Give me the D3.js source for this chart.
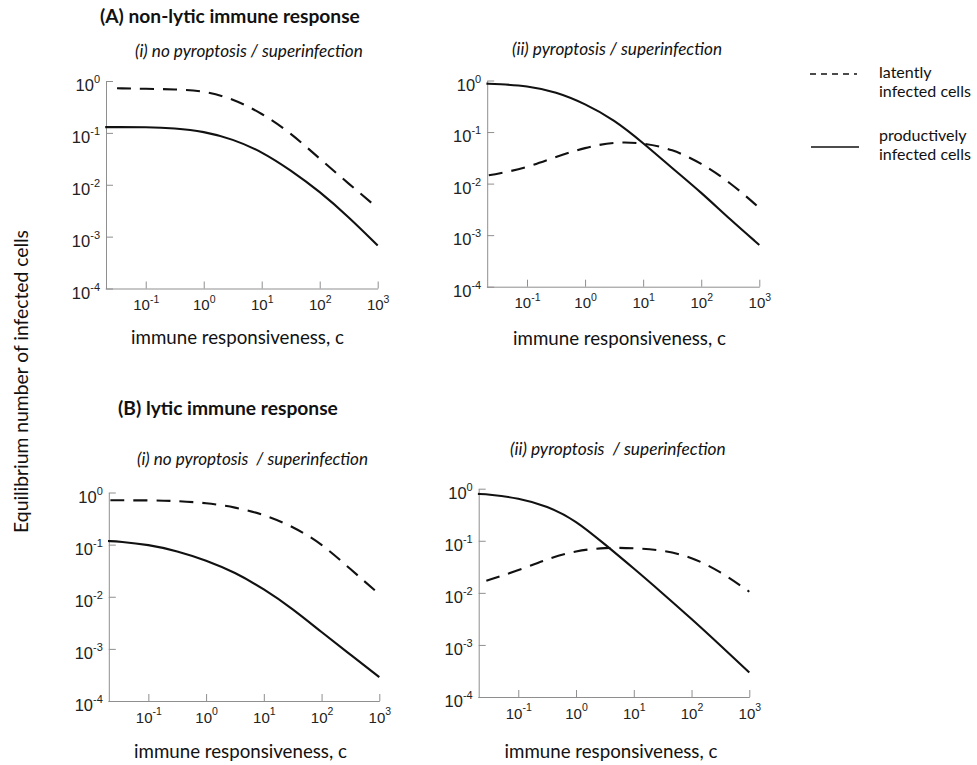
<!DOCTYPE html>
<html><head><meta charset="utf-8">
<script src="https://cdn.jsdelivr.net/npm/d3@7"></script>
<style>body{margin:0;background:#fff} svg{display:block}</style>
</head><body><svg id="c" width="977" height="765"></svg>
<script>
// ---- data ----
const xTickValues = [0.1, 1, 10, 100, 1000];
const xTickExps = ["-1", "0", "1", "2", "3"];
const yTickValues = [1, 0.1, 0.01, 0.001, 0.0001];
const yTickExps = ["0", "-1", "-2", "-3", "-4"];

const cProductive = [0.02, 0.0316, 0.1, 0.316, 1, 3.16, 10, 31.6, 100, 316, 1000];

const aiProductive  = [0.129, 0.129, 0.129, 0.123, 0.107, 0.0759, 0.0437, 0.0191, 0.00741, 0.0024, 0.000676];
const aiLatentC     = [0.032, 0.1, 0.316, 1, 3.16, 10, 31.6, 100, 316, 1000];
const aiLatent      = [0.724, 0.708, 0.692, 0.646, 0.457, 0.240, 0.100, 0.0316, 0.0105, 0.00355];

const aiiProductive = [0.871, 0.851, 0.794, 0.603, 0.355, 0.174, 0.0617, 0.0200, 0.00676, 0.00200, 0.000646];
const aiiLatentC    = [0.022, 0.0316, 0.1, 0.316, 1, 3.16, 10, 31.6, 100, 316, 1000];
const aiiLatent     = [0.0145, 0.0155, 0.0204, 0.0331, 0.0501, 0.0646, 0.0617, 0.0468, 0.0251, 0.0105, 0.00339];

const biProductive  = [0.117, 0.115, 0.100, 0.0759, 0.0501, 0.0295, 0.0141, 0.00589, 0.00209, 0.000776, 0.000288];
const biLatentC     = [0.022, 0.1, 0.316, 1, 3.16, 10, 31.6, 100, 316, 1000];
const biLatent      = [0.708, 0.708, 0.692, 0.631, 0.525, 0.380, 0.224, 0.105, 0.0339, 0.0112];

const biiProductive = [0.794, 0.776, 0.661, 0.468, 0.245, 0.0851, 0.0295, 0.00977, 0.00316, 0.000977, 0.000295];
const biiLatentC    = [0.028, 0.1, 0.316, 1, 3.16, 10, 31.6, 100, 316, 1000];
const biiLatent     = [0.0170, 0.0269, 0.0447, 0.0646, 0.0741, 0.0724, 0.0661, 0.0490, 0.0257, 0.0105];

const legendLabels = [["latently", "infected cells"], ["productively", "infected cells"]];
const xAxisTitle = "immune responsiveness, c";
const yAxisTitle = "Equilibrium number of infected cells";

// ---- layout ----
const panels = [
  {x: [105.2, 377.7], y: [288.5, 81], prod: aiProductive, latC: aiLatentC, lat: aiLatent,
   sub: "(i) no pyroptosis / superinfection", subX: 135, subY: 57, subW: 228, xlab: 237.5, xlabY: 344},
  {x: [486.4, 759.3], y: [286.7, 80.5], prod: aiiProductive, latC: aiiLatentC, lat: aiiLatent,
   sub: "(ii) pyroptosis / superinfection", subX: 512, subY: 55, subW: 210, xlab: 619.5, xlabY: 345},
  {x: [108, 379.3], y: [701, 492.5], prod: biProductive, latC: biLatentC, lat: biLatent,
   sub: "(i) no pyroptosis  / superinfection", subX: 137, subY: 465, subW: 231, xlab: 240.5, xlabY: 758},
  {x: [477.9, 749.3], y: [697, 488.7], prod: biiProductive, latC: biiLatentC, lat: biiLatent,
   sub: "(ii) pyroptosis  / superinfection", subX: 510, subY: 455, subW: 216, xlab: 611, xlabY: 758}
];

const svg = d3.select("#c");
const AX = "#8f8f8f";
const TXT = "Lato, 'Open Sans', sans-serif";
const NUM = "'Liberation Sans', Arial, sans-serif";

function fit(sel, w) {
  const L = sel.node().getComputedTextLength();
  const fs = parseFloat(sel.attr("font-size"));
  sel.attr("font-size", (fs * w / L).toFixed(2));
}

panels.forEach(p => {
  const x = d3.scaleLog().domain([0.02, 1000]).range(p.x);
  const y = d3.scaleLog().domain([1e-4, 1]).range(p.y);
  const g = svg.append("g");

  // x axis
  const gx = g.append("g").attr("transform", `translate(0,${p.y[0]})`)
    .call(d3.axisBottom(x).tickValues(xTickValues).tickSizeInner(-7).tickSizeOuter(0).tickPadding(0)
      .tickFormat(() => ""));
  gx.select(".domain").attr("stroke", AX);
  gx.selectAll(".tick line").attr("stroke", AX);
  gx.selectAll(".tick text").each(function(d, i) {
    const t = d3.select(this).attr("y", 0).attr("dy", 21.5)
      .attr("font-family", NUM).attr("font-size", 15).attr("fill", "#222").attr("text-anchor", "middle");
    t.text(null);
    t.append("tspan").text("10");
    t.append("tspan").attr("dy", -7.5).attr("font-size", 10.5).text(xTickExps[i]);
  });

  // y axis
  const gy = g.append("g").attr("transform", `translate(${p.x[0] + 0.8},0)`)
    .call(d3.axisLeft(y).tickValues(yTickValues).tickSizeInner(-7).tickSizeOuter(0).tickPadding(0)
      .tickFormat(() => ""));
  gy.select(".domain").attr("stroke", AX);
  gy.selectAll(".tick line").attr("stroke", AX);
  gy.selectAll(".tick text").each(function(d, i) {
    const t = d3.select(this).attr("x", -6).attr("dy", 9.5)
      .attr("font-family", NUM).attr("font-size", 16.5).attr("fill", "#222").attr("text-anchor", "end");
    t.text(null);
    t.append("tspan").text("10");
    t.append("tspan").attr("dy", -8).attr("font-size", 11).text(yTickExps[i]);
  });

  const line = d3.line().x(d => x(d[0])).y(d => y(d[1])).curve(d3.curveBasis);

  g.append("path").datum(cProductive.map((c, i) => [c, p.prod[i]]))
    .attr("d", line).attr("fill", "none").attr("stroke", "#111").attr("stroke-width", 2.1);
  g.append("path").datum(p.latC.map((c, i) => [c, p.lat[i]]))
    .attr("d", line).attr("fill", "none").attr("stroke", "#111").attr("stroke-width", 2.1)
    .attr("stroke-dasharray", "14,9");

  // subtitle
  const st = svg.append("text").attr("x", p.subX).attr("y", p.subY)
    .attr("font-family", TXT).attr("font-style", "italic").attr("font-size", 15)
    .style("white-space", "pre").attr("fill", "#111").text(p.sub);
  fit(st, p.subW);

  // x axis title
  const xt = svg.append("text").attr("x", p.xlab).attr("y", p.xlabY).attr("text-anchor", "middle")
    .attr("font-family", TXT).attr("font-size", 17).attr("fill", "#111").text(xAxisTitle);
  fit(xt, 213);
});

// section titles
const tA = svg.append("text").attr("x", 100).attr("y", 23).attr("font-family", TXT)
  .attr("font-weight", "bold").attr("font-size", 18).attr("fill", "#111").text("(A) non-lytic immune response");
fit(tA, 260);
const tB = svg.append("text").attr("x", 118).attr("y", 415).attr("font-family", TXT)
  .attr("font-weight", "bold").attr("font-size", 18).attr("fill", "#111").text("(B) lytic immune response");
fit(tB, 220);

// y axis title
const yt = svg.append("text").attr("transform", "translate(28,381.5) rotate(-90)")
  .attr("text-anchor", "middle").attr("font-family", TXT).attr("font-size", 17).attr("fill", "#111")
  .text(yAxisTitle);
fit(yt, 303);

// legend
const leg = svg.append("g");
const legY = [74, 147];
leg.append("line").attr("x1", 810).attr("x2", 857).attr("y1", legY[0]).attr("y2", legY[0])
  .attr("stroke", "#111").attr("stroke-width", 1.7).attr("stroke-dasharray", "6,5");
leg.append("line").attr("x1", 811).attr("x2", 859).attr("y1", legY[1]).attr("y2", legY[1])
  .attr("stroke", "#111").attr("stroke-width", 1.7);
const legBase = [[78, 97], [141, 160]];
let legFs = null;
legendLabels.forEach((lines, k) => {
  lines.forEach((s, j) => {
    const t = leg.append("text").attr("x", 879).attr("y", legBase[k][j])
      .attr("font-family", TXT).attr("font-size", 16).attr("fill", "#111").text(s);
    if (legFs === null && s === "infected cells") { fit(t, 92); legFs = t.attr("font-size"); }
    else if (legFs !== null) t.attr("font-size", legFs);
  });
});
leg.selectAll("text").attr("font-size", legFs);
</script>
</body></html>
